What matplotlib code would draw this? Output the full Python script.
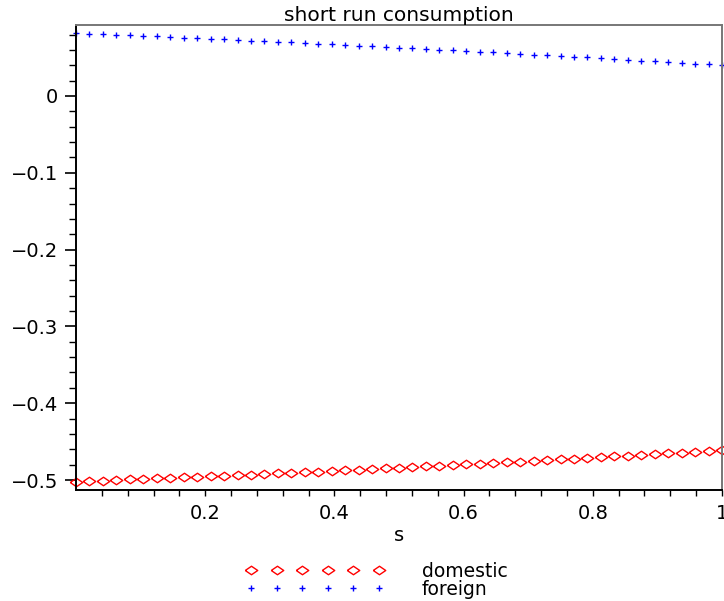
import numpy as np
import matplotlib
matplotlib.use("Agg")
import matplotlib.pyplot as plt
from matplotlib.ticker import FixedLocator, FuncFormatter

# sample points in s (49 evenly spaced)
s = np.linspace(0, 1, 49)

domestic = [-0.5020, -0.5013, -0.5007, -0.5000, -0.4993, -0.4987, -0.4980,
            -0.4973, -0.4966, -0.4958, -0.4951, -0.4944, -0.4936, -0.4929,
            -0.4921, -0.4914, -0.4906, -0.4898, -0.4890, -0.4882, -0.4874,
            -0.4865, -0.4857, -0.4848, -0.4840, -0.4831, -0.4823, -0.4814,
            -0.4805, -0.4796, -0.4787, -0.4778, -0.4769, -0.4760, -0.4750,
            -0.4741, -0.4731, -0.4722, -0.4712, -0.4702, -0.4692, -0.4682,
            -0.4672, -0.4662, -0.4652, -0.4642, -0.4632, -0.4621, -0.4610]

foreign = [0.0820, 0.0813, 0.0806, 0.0798, 0.0791, 0.0784, 0.0776, 0.0769,
           0.0761, 0.0753, 0.0746, 0.0738, 0.0730, 0.0722, 0.0714, 0.0706,
           0.0698, 0.0690, 0.0681, 0.0673, 0.0665, 0.0656, 0.0647, 0.0639,
           0.0630, 0.0621, 0.0612, 0.0603, 0.0594, 0.0585, 0.0576, 0.0567,
           0.0558, 0.0548, 0.0539, 0.0530, 0.0520, 0.0510, 0.0501, 0.0491,
           0.0481, 0.0471, 0.0461, 0.0451, 0.0441, 0.0430, 0.0420, 0.0410,
           0.0400]

xticks = [0.2, 0.4, 0.6, 0.8, 1.0]
yticks = [0.0, -0.1, -0.2, -0.3, -0.4, -0.5]

plt.rcParams['font.family'] = ['DejaVu Sans']

fig = plt.figure(figsize=(7.24, 6.01), dpi=100)
ax = fig.add_axes([76/724, 111/601, 646/724, 465/601])

# flattened diamond like the maple one
diamond = [(-1, 0), (0, 0.68), (1, 0), (0, -0.68), (-1, 0)]

ax.plot(s, domestic, linestyle='none', marker=diamond, markersize=9,
        markerfacecolor='none', markeredgecolor='#ff0000', markeredgewidth=1.0,
        clip_on=False, label='domestic')
ax.plot(s, foreign, linestyle='none', marker='+', markersize=5,
        color='#0000ff', markeredgewidth=1.0, clip_on=False, label='foreign')

ax.set_xlim(0, 1)
ax.set_ylim(-0.513, 0.0924)

ax.xaxis.set_major_locator(FixedLocator(xticks))
ax.xaxis.set_minor_locator(FixedLocator(np.arange(0.04, 1.0, 0.04)))
ax.xaxis.set_major_formatter(FuncFormatter(lambda v, p: '1' if v == 1 else '%.1f' % v))
ax.yaxis.set_major_locator(FixedLocator(yticks))
ax.yaxis.set_minor_locator(FixedLocator(np.arange(-0.50, 0.09, 0.02)))
ax.yaxis.set_major_formatter(FuncFormatter(lambda v, p: '0' if abs(v) < 1e-9 else ('%.1f' % v).replace('-', '\u2212')))

ax.tick_params(axis='y', which='major', length=8, width=1.2, labelsize=14, pad=5)
ax.tick_params(axis='y', which='minor', length=5, width=1.0)
ax.tick_params(axis='x', which='both', length=4, width=1.0, labelsize=14, pad=6)

for side in ['left', 'bottom']:
    ax.spines[side].set_color('black')
    ax.spines[side].set_linewidth(1.4)
for side in ['top', 'right']:
    ax.spines[side].set_color('#777777')
    ax.spines[side].set_linewidth(1.4)

ax.set_title('short run consumption', fontsize=14.5, pad=3)
ax.set_xlabel('s', fontsize=14, labelpad=2)

fig.legend(loc='lower left', bbox_to_anchor=(236/724, -7 / 601),
           frameon=False, numpoints=6, handlelength=7.4, handletextpad=2.0,
           labelspacing=-0.05, fontsize=13.5, borderpad=0)

fig.savefig('out.png', dpi=100)
